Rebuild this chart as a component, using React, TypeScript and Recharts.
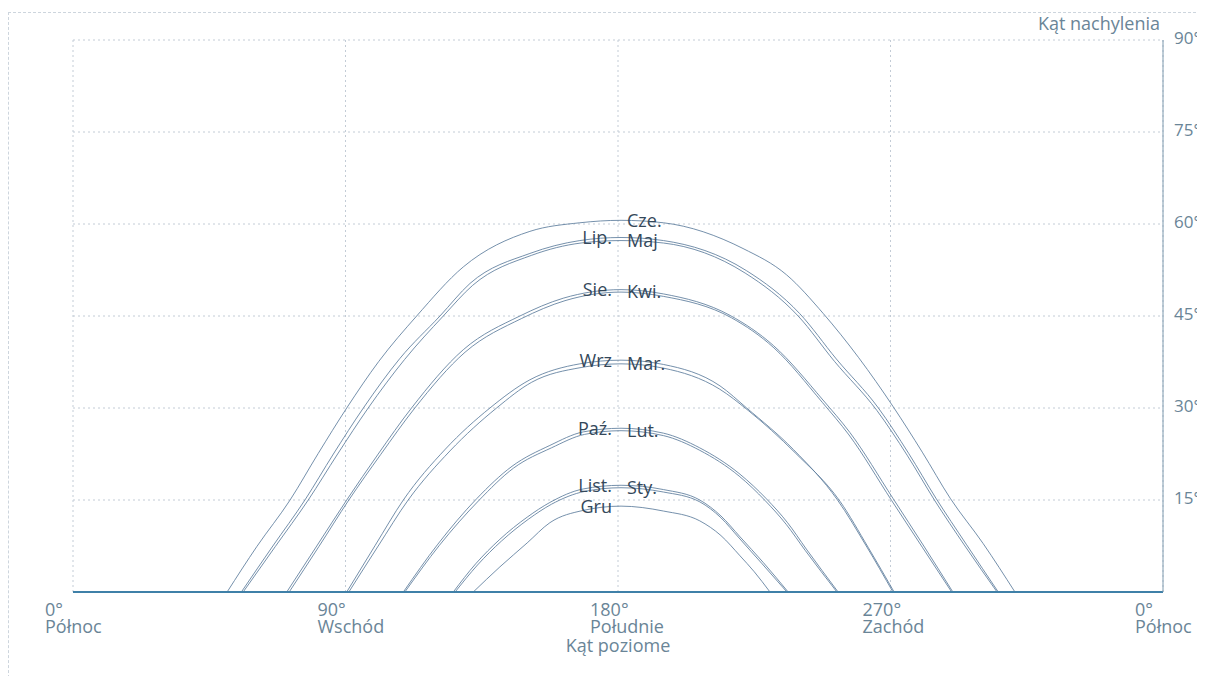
import React from 'react';
import { LineChart, Line, XAxis, YAxis, CartesianGrid, ReferenceDot } from 'recharts';

// [azimuth°, elevation°]
const czerwiec = [[50.9,0],[60.7,7.4],[71.7,15],[81,22.6],[90.4,30],[101,37.6],[113.5,45],[128.9,53],[150.9,58.8],[167.4,60.2],[181,60.6],[195,60.2],[221.3,56],[235.7,51.7],[247.8,45.4],[259.5,38.2],[270.9,30.2],[280.5,22.8],[289.7,15.3],[300.6,7.9],[311.1,0]];
const lipiec = [[55.6,0],[66,7.5],[76.6,15],[86,22.5],[95.9,30],[108,38.1],[121.2,45],[131.1,50.3],[150.9,55.2],[167.4,57.3],[181,57.8],[195,57.3],[222.4,52.4],[240,45.4],[252.1,38],[266,30],[276,22.6],[285,15.3],[295,7.8],[305.6,0]];
const maj = [[56.2,0],[66.8,7.4],[77.7,15],[87.4,22.5],[97.5,30],[109.5,37.9],[122.3,45],[132,50],[151.5,54.9],[167.8,56.9],[181,57.3],[195,56.9],[222,52],[239.5,45],[251.5,37.6],[265.5,29.6],[275.5,22.3],[284.5,15],[294.6,7.5],[305.2,0]];
const sierpien = [[70.6,0],[80.5,7.5],[90.4,15],[100.8,22.5],[111.8,30],[128.9,39.5],[147.6,45],[161.9,47.9],[181,49.3],[195,48.6],[217,45.1],[231.3,40.2],[247.7,31.3],[256.6,26],[270.9,15.2],[281,7.5],[290.6,0]];
const kwiecien = [[71.4,0],[81.2,7.4],[91.1,15],[101.6,22.4],[112.9,30],[129.5,39.1],[148.2,44.6],[162.5,47.5],[181,48.9],[195,48.2],[217.5,44.7],[231.5,39.8],[247.5,30.9],[256.3,25.6],[270.4,14.9],[280.5,7.3],[290.2,0]];
const wrzesien = [[90.4,0],[99.8,7.6],[109.1,15],[123,23.3],[137.7,30],[150.9,34.6],[167.4,37.2],[181,37.8],[195,37.1],[213.7,33.6],[222.5,30],[238,23.2],[252.5,15],[262,7.5],[270.8,0]];
const marzec = [[91.1,0],[100.8,7.5],[110.7,15],[124.5,23],[139.9,30],[151.5,34.2],[167.8,36.6],[181,37.2],[195,36.5],[213.5,33.1],[223,29.6],[238.5,22.7],[253.3,14.8],[262.6,7.3],[271.2,0]];
const pazdziernik = [[109.1,0],[120.5,7.8],[133.3,15.2],[145,20.5],[157.5,23.9],[168.5,26.1],[181,26.7],[195,25.9],[207,23.5],[220.3,19.2],[229,15.2],[236,11.3],[242.2,7],[252.7,0]];
const luty = [[109.6,0],[121,7.6],[134,14.9],[145.5,20.2],[158,23.5],[169,25.7],[181,26.3],[195,25.5],[207,23.1],[220,18.9],[228.6,14.9],[235.6,11],[241.8,6.8],[252.3,0]];
const listopad = [[125.6,0],[133,4.6],[141,8.6],[150,12.2],[157.5,14.6],[168.5,16.8],[181,17.4],[195,16.7],[207,15],[214,12.4],[220.3,9],[228,4.8],[236.2,0]];
const styczen = [[126.2,0],[133.6,4.4],[141.5,8.3],[150.5,11.9],[158,14.3],[169,16.4],[181,17],[195,16.3],[207,14.7],[214,12.1],[220,8.8],[227.6,4.6],[235.8,0]];
const grudzien = [[132.2,0],[141,4.1],[150,8],[157.5,11.3],[168.5,13.3],[181,14],[195,13.2],[207,11.6],[214,9.2],[220.3,5.9],[225,3.3],[230.2,0]];

const MONTHS = [
  { name: 'Cze.', path: czerwiec, side: 'right' },
  { name: 'Lip.', path: lipiec, side: 'left' },
  { name: 'Maj', path: maj, side: 'right' },
  { name: 'Sie.', path: sierpien, side: 'left' },
  { name: 'Kwi.', path: kwiecien, side: 'right' },
  { name: 'Wrz', path: wrzesien, side: 'left' },
  { name: 'Mar.', path: marzec, side: 'right' },
  { name: 'Paź.', path: pazdziernik, side: 'left' },
  { name: 'Lut.', path: luty, side: 'right' },
  { name: 'List.', path: listopad, side: 'left' },
  { name: 'Sty.', path: styczen, side: 'right' },
  { name: 'Gru', path: grudzien, side: 'left' },
];

const X_TICKS = [0, 90, 180, 270, 360];
const X_DEG = ['0°', '90°', '180°', '270°', '0°'];
const X_DIR = ['Północ', 'Wschód', 'Południe', 'Zachód', 'Północ'];
const Y_TICKS = [15, 30, 45, 60, 75, 90];
const X_TITLE = 'Kąt poziome';
const Y_TITLE = 'Kąt nachylenia';

const FONT = '"Open Sans", "Noto Sans", sans-serif';
const TICK_COLOR = '#6a8597';
const LABEL_COLOR = '#34485a';
const CURVE_COLOR = '#5d7c9c';
const GRID_COLOR = '#c3ccd6';

const toPoints = (arr: number[][]) => arr.map(([az, el]) => ({ az, el }));

const XTick = (props: any) => {
  const { x, y, payload } = props;
  const i = X_TICKS.indexOf(payload.value);
  const tx = x - 28;
  return (
    <g>
      <text x={tx} y={y + 24} fontFamily={FONT} fontSize={18} fill={TICK_COLOR}>{X_DEG[i]}</text>
      <text x={tx} y={y + 41} fontFamily={FONT} fontSize={18} fill={TICK_COLOR}>{X_DIR[i]}</text>
    </g>
  );
};

const YTick = (props: any) => {
  const { x, y, payload } = props;
  return (
    <text x={x + 11} y={y + 4} fontFamily={FONT} fontSize={17} fill={TICK_COLOR}>
      {`${payload.value}°`}
    </text>
  );
};

const YTitle = (props: any) => {
  const vb = props.viewBox || { x: 1155, y: 32 };
  return (
    <text x={vb.x - 3} y={vb.y - 10} textAnchor="end" fontFamily={FONT} fontSize={18} fill={TICK_COLOR}>
      {Y_TITLE}
    </text>
  );
};

export default function App() {
  return (
    <div style={{ position: 'relative', width: 1197, height: 668 }}>
      <div
        style={{
          position: 'absolute',
          left: 0,
          top: 4,
          width: 1197,
          height: 680,
          borderTop: '1px dashed #cdd5dd',
          borderLeft: '1px dashed #cdd5dd',
          pointerEvents: 'none',
        }}
      />
      <LineChart width={1197} height={668} margin={{ top: 32, right: 8, left: 65, bottom: 0 }} style={{ position: 'relative' }}>
        <CartesianGrid stroke={GRID_COLOR} strokeDasharray="2 3" />
        <XAxis
          dataKey="az"
          type="number"
          domain={[0, 360]}
          ticks={X_TICKS}
          interval={0}
          tick={<XTick />}
          tickLine={false}
          tickSize={0}
          tickMargin={0}
          height={84}
          axisLine={{ stroke: '#3f80a8', strokeWidth: 2 }}
          allowDuplicatedCategory={false}
          label={{ value: X_TITLE, position: 'insideBottom', offset: 24, fill: TICK_COLOR, fontSize: 18, fontFamily: FONT }}
        />
        <YAxis
          orientation="right"
          type="number"
          domain={[0, 90]}
          ticks={Y_TICKS}
          interval={0}
          tick={<YTick />}
          tickLine={false}
          tickSize={0}
          tickMargin={0}
          width={34}
          axisLine={{ stroke: '#7f9aae' }}
          label={YTitle}
        />
        {MONTHS.map((m) => (
          <Line
            key={m.name}
            data={toPoints(m.path)}
            dataKey="el"
            type="monotone"
            stroke={CURVE_COLOR}
            strokeWidth={1}
            strokeOpacity={0.85}
            dot={false}
            activeDot={false}
            isAnimationActive={false}
          />
        ))}
        {MONTHS.map((m) => {
          const peak = Math.max(...m.path.map((p) => p[1]));
          return (
            <ReferenceDot
              key={'lbl-' + m.name}
              x={180}
              y={peak}
              r={0}
              fill="none"
              stroke="none"
              label={{
                value: m.name,
                position: m.side as any,
                offset: m.side === 'left' ? 6 : 9,
                fill: LABEL_COLOR,
                fontSize: 18,
                fontFamily: FONT,
              }}
            />
          );
        })}
      </LineChart>
    </div>
  );
}
